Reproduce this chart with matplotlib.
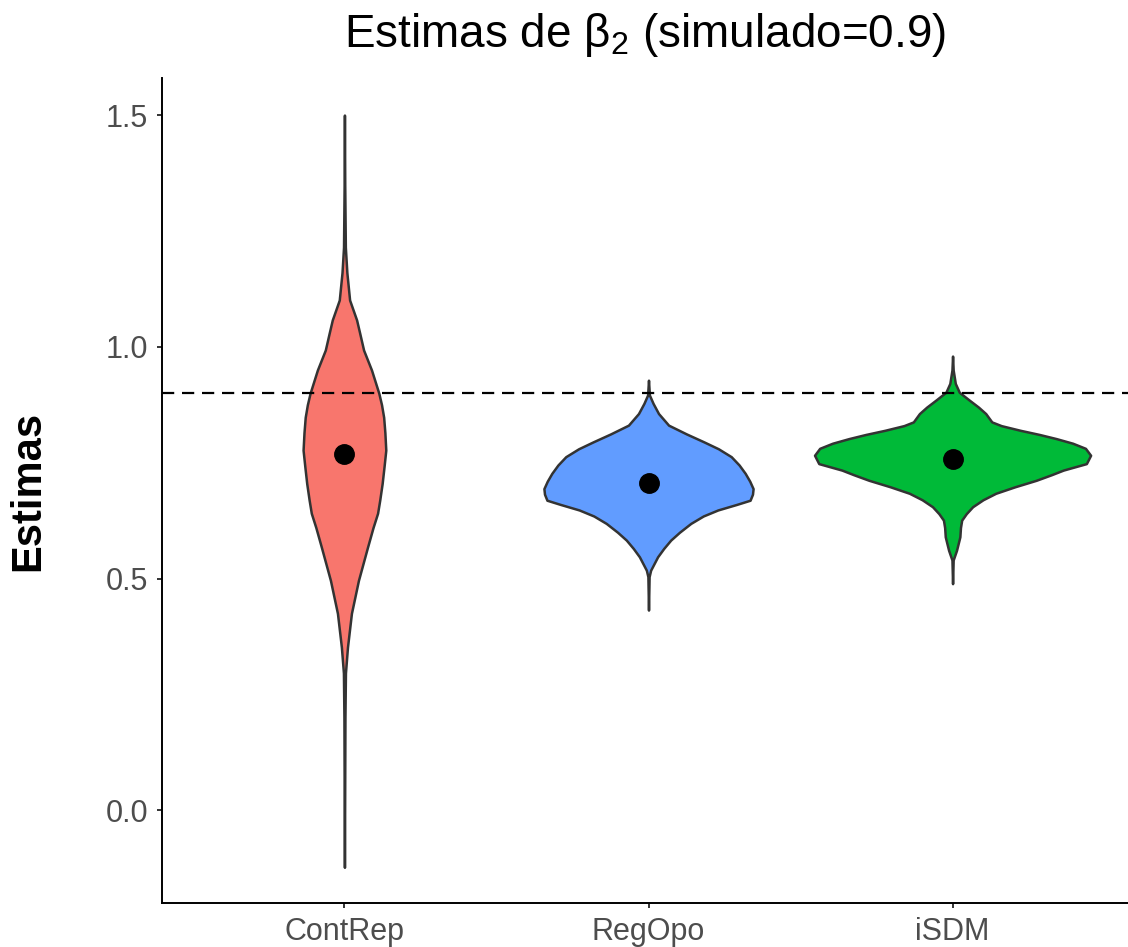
import matplotlib
matplotlib.use("Agg")
import matplotlib.pyplot as plt

plt.rcParams["font.family"] = ["Liberation Sans", "DejaVu Sans"]
plt.rcParams["mathtext.fontset"] = "custom"
plt.rcParams["mathtext.rm"] = "Liberation Sans"
plt.rcParams["mathtext.it"] = "Liberation Sans"

# categories, colours and means
categories = ["ContRep", "RegOpo", "iSDM"]
fill_colors = ["#F8766D", "#619CFF", "#00BA38"]
means = [0.768, 0.706, 0.758]
simulated = 0.9

# violin outlines: estimate value and half-width (category units)
contrep_y = [-0.123, 0.20, 0.296, 0.352, 0.425, 0.496, 0.568, 0.610, 0.641, 0.669,
             0.705, 0.740, 0.777, 0.815, 0.848, 0.875, 0.900, 0.950, 0.993, 1.030,
             1.058, 1.101, 1.160, 1.215, 1.35, 1.500]
contrep_hw = [0.0, 0.0017, 0.0033, 0.010, 0.023, 0.046, 0.076, 0.094, 0.109, 0.116,
              0.124, 0.130, 0.136, 0.133, 0.129, 0.122, 0.113, 0.089, 0.063, 0.050,
              0.040, 0.017, 0.008, 0.003, 0.001, 0.0]

regopo_y = [0.432, 0.504, 0.518, 0.547, 0.565, 0.583, 0.600, 0.619, 0.635, 0.648,
            0.660, 0.669, 0.682, 0.694, 0.710, 0.727, 0.745, 0.763, 0.780, 0.795,
            0.812, 0.831, 0.856, 0.878, 0.896, 0.928]
regopo_hw = [0.0, 0.002, 0.007, 0.030, 0.050, 0.073, 0.102, 0.139, 0.180, 0.228,
             0.290, 0.334, 0.342, 0.344, 0.333, 0.318, 0.298, 0.272, 0.230, 0.182,
             0.125, 0.066, 0.033, 0.015, 0.003, 0.0]

isdm_y = [0.489, 0.540, 0.561, 0.590, 0.610, 0.626, 0.640, 0.655, 0.670, 0.684,
          0.698, 0.712, 0.724, 0.734, 0.748, 0.766, 0.781, 0.792, 0.802, 0.811,
          0.820, 0.830, 0.838, 0.856, 0.870, 0.885, 0.902, 0.921, 0.950, 0.980]
isdm_hw = [0.0, 0.002, 0.013, 0.024, 0.026, 0.030, 0.045, 0.066, 0.100, 0.142,
           0.205, 0.275, 0.325, 0.364, 0.440, 0.454, 0.437, 0.395, 0.341, 0.285,
           0.222, 0.160, 0.129, 0.109, 0.085, 0.055, 0.022, 0.009, 0.002, 0.0]

profiles = [(contrep_y, contrep_hw), (regopo_y, regopo_hw), (isdm_y, isdm_hw)]

fig = plt.figure(figsize=(11.28, 9.47), dpi=100)
# panel runs a little past the right edge of the image, as in the reference
ax = fig.add_axes([162 / 1128, 1 - 903 / 947, (1135 - 162) / 1128, (903 - 78) / 947])

for i, (ys, hws) in enumerate(profiles):
    pos = i + 1
    left = [pos - w for w in hws]
    right = [pos + w for w in hws]
    ax.fill_betweenx(ys, left, right, facecolor=fill_colors[i],
                     edgecolor="#333333", linewidth=1.8, zorder=2)

ax.axhline(simulated, color="black", linewidth=1.6, dashes=(5.5, 3.5), zorder=3)
ax.plot(range(1, len(categories) + 1), means, "o", color="black",
        markersize=14, zorder=4)

ax.set_xlim(0.4, 3.6)
ax.set_ylim(-0.2, 1.58)
ax.set_xticks(range(1, len(categories) + 1))
ax.set_xticklabels(categories)
ax.set_yticks([0.0, 0.5, 1.0, 1.5])
ax.set_yticklabels(["0.0", "0.5", "1.0", "1.5"])

for s in ["top", "right"]:
    ax.spines[s].set_visible(False)
for s in ["left", "bottom"]:
    ax.spines[s].set_color("black")
    ax.spines[s].set_linewidth(1.4)

ax.tick_params(axis="both", length=3.6, width=1.4, color="#333333",
               labelcolor="#4D4D4D", labelsize=22, pad=6.5)

ax.set_ylabel("Estimas", fontsize=30, fontweight="bold")
ax.yaxis.set_label_coords(-134 / 973, 0.5)
ax.yaxis.label.set_verticalalignment("center")

fig.text(645 / 1128, 1 - 47 / 947, "Estimas de β$_2$ (simulado=0.9)",
         fontsize=33, ha="center", va="baseline")

fig.savefig("out.png", dpi=100)
